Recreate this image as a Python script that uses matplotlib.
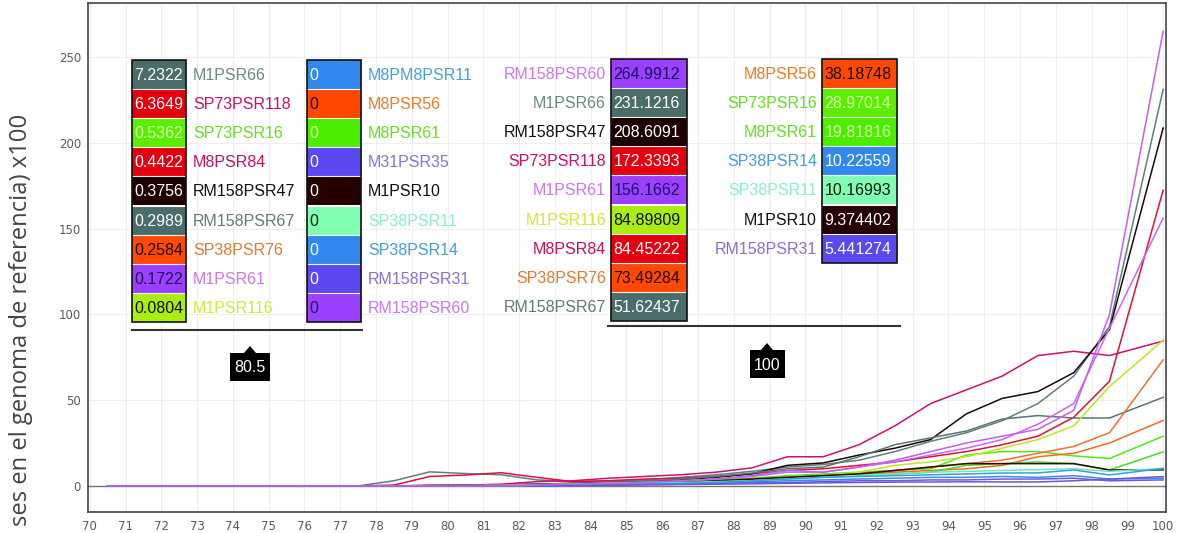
import matplotlib
matplotlib.use('Agg')
import matplotlib.pyplot as plt
from matplotlib.patches import Rectangle, Polygon

W, H = 1184, 533

# ---------------- data ----------------
x_points = [70.5, 71.5, 72.5, 73.5, 74.5, 75.5, 76.5, 77.5, 78.5, 79.5, 80.5,
            81.5, 82.5, 83.5, 84.5, 85.5, 86.5, 87.5, 88.5, 89.5, 90.5, 91.5,
            92.5, 93.5, 94.5, 95.5, 96.5, 97.5, 98.5, 100]
x_ticks = [70, 71, 72, 73, 74, 75, 76, 77, 78, 79, 80, 81, 82, 83, 84, 85, 86,
           87, 88, 89, 90, 91, 92, 93, 94, 95, 96, 97, 98, 99, 100]
y_ticks = [0, 50, 100, 150, 200, 250]

Z7 = [0, 0, 0, 0, 0, 0, 0]  # values at 70.5 .. 76.5 are all zero

M1PSR66 = Z7 + [0, 3, 8.2, 7.2322, 6.5, 3.5, 2.5, 3, 3.5, 5, 6.5, 8.5, 11, 12.5, 15, 20, 26, 31, 38, 48, 64, 93, 231.1216]
SP73PSR118 = Z7 + [0, 0.5, 5.5, 6.3649, 7.7, 5, 2.5, 3, 4, 4.5, 5.5, 7, 9, 10, 12, 14, 17, 20, 24, 29, 40, 61, 172.3393]
SP73PSR16 = Z7 + [0, 0, 0.3, 0.5362, 0.8, 1, 1.5, 2, 2.5, 3, 3.5, 4.5, 6, 7, 8, 9, 10, 18, 20, 20, 17.5, 16, 28.97014]
M8PSR84 = Z7 + [0, 0, 0.3, 0.4422, 1, 2.5, 3, 4.5, 5.5, 6.5, 8, 10.5, 17, 17, 24, 35, 48, 56, 64, 76, 78.5, 76, 84.45222]
RM158PSR47 = Z7 + [0, 0, 0.2, 0.3756, 0.6, 1, 1.5, 2, 2.5, 3.5, 5, 7, 12, 13.4, 18, 22, 27, 42, 51, 55, 66, 91, 208.6091]
RM158PSR67 = Z7 + [0, 0, 0.2, 0.2989, 0.5, 1, 1.5, 2, 3, 4, 5.5, 7.5, 10, 11, 17, 24, 28, 32, 39, 41, 39.6, 39.6, 51.62437]
SP38PSR76 = Z7 + [0, 0, 0.1, 0.2584, 0.4, 0.6, 1, 1.5, 2, 2.5, 3, 4, 5, 6, 7.5, 9, 11, 13, 15, 19, 23, 31, 73.49284]
M1PSR61 = Z7 + [0, 0, 0.1, 0.1722, 0.3, 0.6, 1, 1.5, 2, 3, 4, 5.5, 8, 8, 11, 14, 18, 22, 27, 36, 48, 92, 156.1662]
M1PSR116 = Z7 + [0, 0, 0.05, 0.0804, 0.2, 0.5, 1, 1.5, 2, 2.5, 3, 4, 5, 6, 8, 12, 14, 17, 22, 27, 35, 58, 84.89809]
M8PM8PSR11 = Z7 + [0, 0, 0, 0, 0, 0, 0.3, 0.5, 1, 1.5, 2, 2.5, 3, 3.5, 4, 4.5, 5, 5, 5.5, 5, 6, 4, 4.5]
M8PSR56 = Z7 + [0, 0, 0, 0, 0, 0.2, 0.5, 1, 1.5, 2, 3, 4, 5, 6, 7, 8, 9, 10, 12, 17, 19, 25, 38.18748]
M8PSR61 = Z7 + [0, 0, 0, 0, 0, 0.2, 0.5, 1, 1.5, 2, 3, 4, 5, 6, 7, 7, 8, 12, 13, 14, 13, 9.3, 19.81816]
M31PSR35 = Z7 + [0, 0, 0, 0, 0, 0, 0.2, 0.5, 0.8, 1, 1.5, 2, 2, 2.5, 3, 3, 3.5, 3.5, 4, 4, 4.5, 3, 3.5]
M1PSR10 = Z7 + [0, 0, 0, 0, 0, 0.2, 0.5, 1, 1.5, 2, 3, 4, 5, 6, 7, 9, 11, 13, 13, 13, 13, 9.3, 9.374402]
SP38PSR11 = Z7 + [0, 0, 0, 0, 0, 0.2, 0.5, 1, 1.5, 2, 2.5, 3, 4, 5, 6, 7, 8, 8.5, 9, 9.5, 10, 8.5, 10.16993]
SP38PSR14 = Z7 + [0, 0, 0, 0, 0, 0.2, 0.4, 0.8, 1.2, 1.5, 2, 3, 4, 5, 5.5, 6, 6.5, 7, 7.5, 7.6, 9.3, 6.4, 10.22559]
RM158PSR31 = Z7 + [0, 0, 0, 0, 0, 0.1, 0.2, 0.4, 0.6, 0.8, 1, 1.2, 1.5, 1.8, 2, 2.2, 2.3, 2.4, 2.3, 2.3, 3, 4, 5.441274]
RM158PSR60 = Z7 + [0, 0, 0, 0, 0, 0.5, 1, 1.5, 2, 3, 4, 6, 9, 8, 11, 15, 20, 25, 29, 33, 44, 100, 264.9912]

series = {
    'M1PSR66': M1PSR66, 'SP73PSR118': SP73PSR118, 'SP73PSR16': SP73PSR16,
    'M8PSR84': M8PSR84, 'RM158PSR47': RM158PSR47, 'RM158PSR67': RM158PSR67,
    'SP38PSR76': SP38PSR76, 'M1PSR61': M1PSR61, 'M1PSR116': M1PSR116,
    'M8PM8PSR11': M8PM8PSR11, 'M8PSR56': M8PSR56, 'M8PSR61': M8PSR61,
    'M31PSR35': M31PSR35, 'M1PSR10': M1PSR10, 'SP38PSR11': SP38PSR11,
    'SP38PSR14': SP38PSR14, 'RM158PSR31': RM158PSR31, 'RM158PSR60': RM158PSR60,
}

line_colors = {
    'M1PSR66': '#5f7f7b', 'SP73PSR118': '#e0103c', 'SP73PSR16': '#55e811',
    'M8PSR84': '#cc1170', 'RM158PSR47': '#1a0808', 'RM158PSR67': '#5a7573',
    'SP38PSR76': '#f07030', 'M1PSR61': '#cc66ee', 'M1PSR116': '#bbe822',
    'M8PM8PSR11': '#3b8be8', 'M8PSR56': '#f26a20', 'M8PSR61': '#44dd22',
    'M31PSR35': '#6a58e8', 'M1PSR10': '#2a0c0c', 'SP38PSR11': '#66e8c0',
    'SP38PSR14': '#33a0dd', 'RM158PSR31': '#6a58dd', 'RM158PSR60': '#c060f4',
}
name_colors = {
    'M1PSR66': '#6a8a86', 'SP73PSR118': '#c8106a', 'SP73PSR16': '#66dd22',
    'M8PSR84': '#c8105a', 'RM158PSR47': '#111111', 'RM158PSR67': '#5f7a78',
    'SP38PSR76': '#e07a30', 'M1PSR61': '#cc77ee', 'M1PSR116': '#c8ee33',
    'M8PM8PSR11': '#44a0dd', 'M8PSR56': '#ee7a22', 'M8PSR61': '#66dd22',
    'M31PSR35': '#8a70e0', 'M1PSR10': '#111111', 'SP38PSR11': '#88eecc',
    'SP38PSR14': '#44a0cc', 'RM158PSR31': '#8a70d0', 'RM158PSR60': '#cc77ee',
}
box_colors = {
    'M1PSR66': '#4b6d6a', 'SP73PSR118': '#e4000f', 'SP73PSR16': '#5cee00',
    'M8PSR84': '#e4000f', 'RM158PSR47': '#1e0000', 'RM158PSR67': '#4b6d6a',
    'SP38PSR76': '#ff4800', 'M1PSR61': '#9b40ff', 'M1PSR116': '#aaee11',
    'M8PM8PSR11': '#3388ee', 'M8PSR56': '#ff4800', 'M8PSR61': '#4cee00',
    'M31PSR35': '#5a48f0', 'M1PSR10': '#260000', 'SP38PSR11': '#80ffb4',
    'SP38PSR14': '#3388ee', 'RM158PSR31': '#5a48f0', 'RM158PSR60': '#9b40ff',
}
box_text_colors = {
    'M1PSR66': 'white', 'SP73PSR118': 'white', 'SP73PSR16': '#d8ffb0',
    'M8PSR84': 'white', 'RM158PSR47': 'white', 'RM158PSR67': 'white',
    'SP38PSR76': '#1a0a00', 'M1PSR61': '#1a1060', 'M1PSR116': '#0a1000',
    'M8PM8PSR11': 'white', 'M8PSR56': '#1a0a00', 'M8PSR61': '#d8ffb0',
    'M31PSR35': 'white', 'M1PSR10': 'white', 'SP38PSR11': '#001a08',
    'SP38PSR14': 'white', 'RM158PSR31': 'white', 'RM158PSR60': '#1a1060',
}

tip_left_x = 80.5
tip_left_col1 = ['M1PSR66', 'SP73PSR118', 'SP73PSR16', 'M8PSR84', 'RM158PSR47',
                 'RM158PSR67', 'SP38PSR76', 'M1PSR61', 'M1PSR116']
tip_left_col2 = ['M8PM8PSR11', 'M8PSR56', 'M8PSR61', 'M31PSR35', 'M1PSR10',
                 'SP38PSR11', 'SP38PSR14', 'RM158PSR31', 'RM158PSR60']
tip_right_x = 100
tip_right_col1 = ['RM158PSR60', 'M1PSR66', 'RM158PSR47', 'SP73PSR118', 'M1PSR61',
                  'M1PSR116', 'M8PSR84', 'SP38PSR76', 'RM158PSR67']
tip_right_col2 = ['M8PSR56', 'SP73PSR16', 'M8PSR61', 'SP38PSR14', 'SP38PSR11',
                  'M1PSR10', 'RM158PSR31']

y_label = 'ses en el genoma de referencia) x100'

# ---------------- figure ----------------
fig = plt.figure(figsize=(W / 100, H / 100), dpi=100)
fig.patch.set_facecolor('white')

ax = fig.add_axes([88 / W, 1 - 512 / H, (1166 - 88) / W, (512 - 3) / H])
ax.set_facecolor('white')
for name, vals in series.items():
    ax.plot(x_points, vals, color=line_colors[name], lw=1.1, zorder=3)
ax.axhline(0, color='#777777', lw=1.0, zorder=2)
ax.set_xlim(69.95, 100.08)
ax.set_ylim(-15.2, 281.5)
ax.set_xticks(x_ticks)
ax.set_yticks(y_ticks)
ax.grid(True, color='#eeeeee', lw=0.8, zorder=0)
ax.set_axisbelow(True)
ax.tick_params(length=0, colors='#5a5a5a', labelsize=8.5)
ax.tick_params(axis='x', pad=6)
ax.tick_params(axis='y', pad=5)
for s in ax.spines.values():
    s.set_color('#444444')
    s.set_linewidth(1.2)

# overlay in pixel coordinates
ov = fig.add_axes([0, 0, 1, 1])
ov.set_xlim(0, W)
ov.set_ylim(H, 0)
ov.axis('off')
ov.patch.set_alpha(0)

FONT = 'Liberation Sans'
FS = 11.5
ROW = 29.1


def fmt(v):
    return '%.7g' % v


def value_at(name, xv):
    return series[name][x_points.index(xv)]


def draw_column(names, xv, x0, x1, y0, name_side):
    n = len(names)
    for i, nm in enumerate(names):
        top = y0 + i * ROW
        ov.add_patch(Rectangle((x0, top), x1 - x0, ROW, facecolor=box_colors[nm],
                               edgecolor='none', zorder=5))
        if i > 0:
            ov.plot([x0, x1], [top, top], color='#f4f4f4', lw=0.8, zorder=6)
        ov.text(x0 + 2.5, top + ROW / 2 + 1, fmt(value_at(nm, xv)), ha='left', va='center',
                fontsize=FS, family=FONT, color=box_text_colors[nm], zorder=7)
        if name_side == 'right':
            ov.text(x1 + 7, top + ROW / 2 + 1, nm, ha='left', va='center', fontsize=FS,
                    family=FONT, color=name_colors[nm], zorder=7)
        else:
            ov.text(x0 - 5, top + ROW / 2 + 1, nm, ha='right', va='center', fontsize=FS,
                    family=FONT, color=name_colors[nm], zorder=7)
    ov.add_patch(Rectangle((x0, y0), x1 - x0, n * ROW, facecolor='none',
                           edgecolor='#111111', lw=1.2, zorder=8))


# left tooltip
draw_column(tip_left_col1, tip_left_x, 132, 186, 60, 'right')
draw_column(tip_left_col2, tip_left_x, 307, 361, 60, 'right')
ov.plot([132, 362], [330, 330], color='#333333', lw=1.5, zorder=6)

# right tooltip
draw_column(tip_right_col1, tip_right_x, 611, 687, 59, 'left')
draw_column(tip_right_col2, tip_right_x, 822, 897, 59, 'left')
ov.plot([608, 900], [326, 326], color='#333333', lw=1.5, zorder=6)


def badge(cx, cy, label, w):
    h = 28
    ov.add_patch(Rectangle((cx - w / 2, cy - h / 2), w, h, facecolor='black',
                           edgecolor='none', zorder=9))
    ov.add_patch(Polygon([[cx - 6, cy - h / 2], [cx + 6, cy - h / 2], [cx, cy - h / 2 - 7]],
                         closed=True, facecolor='black', edgecolor='none', zorder=9))
    ov.text(cx, cy + 1, label, ha='center', va='center', fontsize=FS, family=FONT,
            color='white', zorder=10)


badge(250, 367, fmt(tip_left_x), 40)
badge(767, 364, fmt(tip_right_x), 35)

# y label
yl = fig.text(21 / W, 1 - 114 / H, y_label, rotation=90, ha='center', va='top',
              fontsize=16, family='Open Sans', color='#444444')
fig.canvas.draw()
ext = yl.get_window_extent()
yl.set_fontsize(16 * 412 / ext.height)

fig.savefig('out.png', dpi=100, facecolor='white')
